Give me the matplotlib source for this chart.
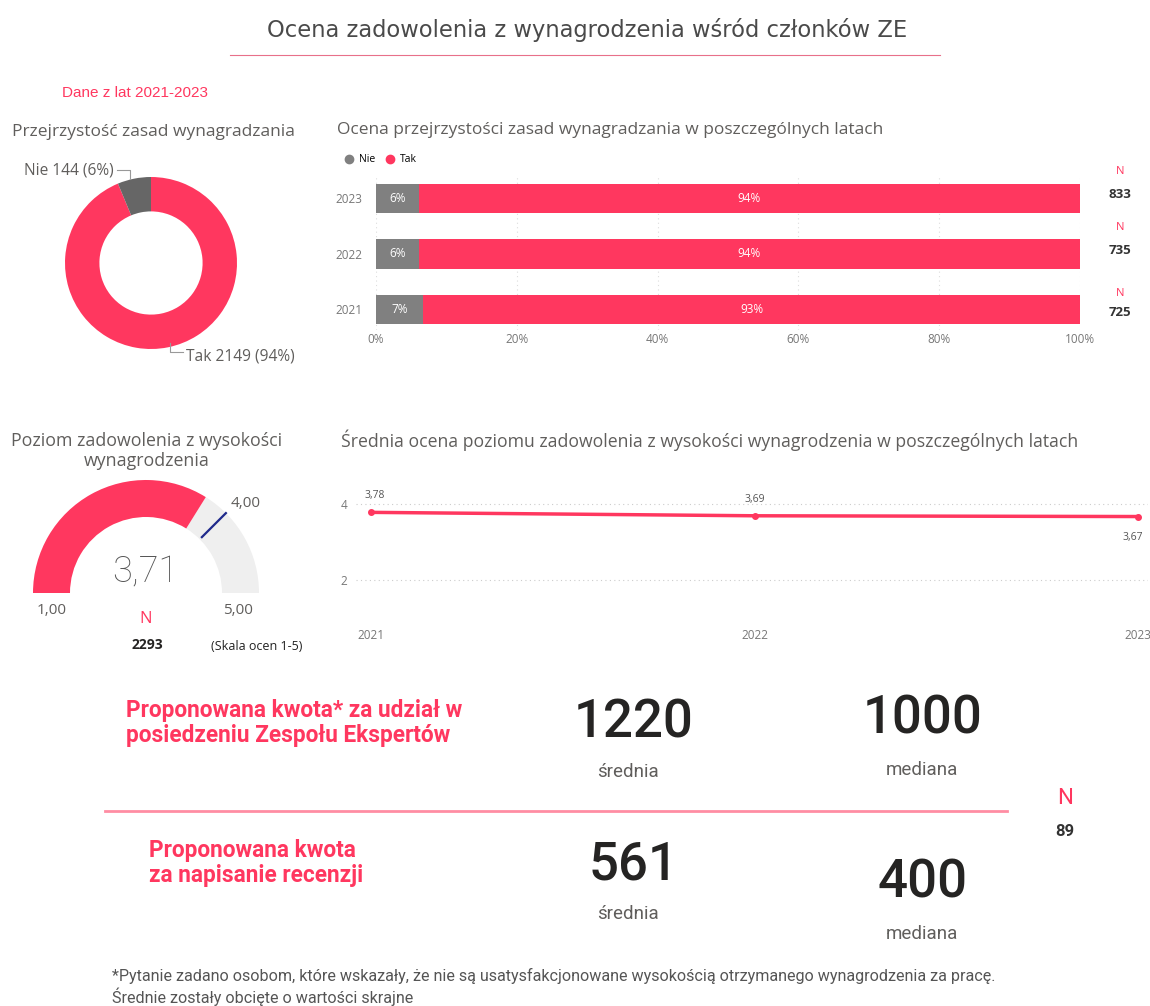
import math
import matplotlib
matplotlib.use('Agg')
import matplotlib.pyplot as plt
from matplotlib.patches import Wedge
from matplotlib.lines import Line2D

W, H = 1150, 1006

RED = '#FF375F'
GRAY_TXT = '#605E5C'
DARK = '#252423'

# ---- data ----
donut_labels = ['Tak', 'Nie']
donut_counts = [2149, 144]

years = ['2021', '2022', '2023']
nie_pct = [6.7, 6.1, 6.1]
tak_pct = [93.3, 93.9, 93.9]
nie_lbl = ['7%', '6%', '6%']
tak_lbl = ['93%', '94%', '94%']
n_year = [725, 735, 833]

gauge_value = 3.71
gauge_min = 1.0
gauge_max = 5.0
gauge_target = 4.0
gauge_n = 2293

line_years = [2021, 2022, 2023]
line_scores = [3.78, 3.69, 3.67]

kwota_names = ['Proponowana kwota* za udział w\nposiedzeniu Zespołu Ekspertów',
               'Proponowana kwota\nza napisanie recenzji']
kwota_mean = [1220, 561]
kwota_median = [1000, 400]
kwota_n = 89


def rect(x0, y0, x1, y1):
    return [x0 / W, 1 - y1 / H, (x1 - x0) / W, (y1 - y0) / H]


def fmt(v):
    return ('%.2f' % v).replace('.', ',')


fig = plt.figure(figsize=(W / 100, H / 100), dpi=100)
fig.patch.set_facecolor('white')

# overlay in pixel coordinates for free text
ov = fig.add_axes([0, 0, 1, 1])
ov.set_xlim(0, W)
ov.set_ylim(H, 0)
ov.axis('off')

ov.text(587, 30, 'Ocena zadowolenia z wynagrodzenia wśród członków ZE', ha='center', va='center',
        fontsize=16.3, color='#4a4a4a', family='DejaVu Sans')
ov.plot([230, 940], [55, 55], color='#E8708A', lw=0.8)

ov.text(62, 93, 'Dane z lat 2021-2023', ha='left', va='center', fontsize=11,
        color=RED, family='Liberation Sans')

# ---- donut ----
ov.text(12, 132, 'Przejrzystość zasad wynagradzania', ha='left', va='center',
        fontsize=12.5, color=GRAY_TXT, family='Open Sans')
ax_d = fig.add_axes(rect(65, 177, 237, 349))
ax_d.pie(donut_counts, colors=[RED, '#666666'], startangle=90, counterclock=False,
         wedgeprops=dict(width=0.4, edgecolor='none'))
ax_d.set_xlim(-1, 1)
ax_d.set_ylim(-1, 1)
tot = sum(donut_counts)
ax_d.plot([-0.24, -0.24, -0.4], [0.98, 1.08, 1.08], color='#999999', lw=0.8, clip_on=False)
ax_d.text(-0.44, 1.08, '%s %d (%d%%)' % (donut_labels[1], donut_counts[1], round(100 * donut_counts[1] / tot)),
          ha='right', va='center', fontsize=11.2, color=GRAY_TXT, family='Open Sans')
ax_d.plot([0.22, 0.22, 0.37], [-0.93, -1.03, -1.03], color='#999999', lw=0.8, clip_on=False)
ax_d.text(0.41, -1.09, '%s %d (%d%%)' % (donut_labels[0], donut_counts[0], round(100 * donut_counts[0] / tot)),
          ha='left', va='center', fontsize=11.2, color=GRAY_TXT, family='Open Sans')

# ---- stacked bars ----
ov.text(337, 130, 'Ocena przejrzystości zasad wynagradzania w poszczególnych latach', ha='left',
        va='center', fontsize=12.5, color=GRAY_TXT, family='Open Sans')
ax_b = fig.add_axes(rect(376, 176, 1080, 330))
ypos = list(range(len(years)))
ax_b.barh(ypos, nie_pct, height=0.53, color='#808080')
ax_b.barh(ypos, tak_pct, left=nie_pct, height=0.53, color=RED)
for i in ypos:
    ax_b.text(nie_pct[i] / 2, i, nie_lbl[i], ha='center', va='center', color='white', fontsize=8.5,
              family='Open Sans')
    ax_b.text(nie_pct[i] + tak_pct[i] / 2, i, tak_lbl[i], ha='center', va='center', color='white',
              fontsize=8.5, family='Open Sans')
ax_b.set_xlim(0, 100)
ax_b.set_ylim(-0.37, 2.405)
ax_b.set_xticks(range(0, 101, 20))
ax_b.set_xticklabels(['%d%%' % v for v in range(0, 101, 20)])
ax_b.set_yticks(ypos)
ax_b.set_yticklabels(years)
ax_b.tick_params(length=0, labelsize=8.5, labelcolor='#777777')
ax_b.tick_params(axis='y', pad=10)
ax_b.tick_params(axis='x', pad=2)
for lab in ax_b.get_xticklabels() + ax_b.get_yticklabels():
    lab.set_family('Open Sans')
ax_b.grid(axis='x', color='#dddddd', ls=(0, (1, 3)), lw=0.8)
ax_b.set_axisbelow(True)
for s in ax_b.spines.values():
    s.set_visible(False)
ax_b.legend(handles=[Line2D([], [], marker='o', ls='', color='#808080', ms=6, label='Nie'),
                     Line2D([], [], marker='o', ls='', color=RED, ms=6, label='Tak')],
            loc='center left', bbox_to_anchor=(333 / W, 1 - 160 / H), bbox_transform=fig.transFigure,
            ncol=2, frameon=False, handletextpad=0.0, columnspacing=0.4,
            borderpad=0, prop=dict(family='Open Sans', size=7.5))
n_y = {2: (171, 194), 1: (227, 250), 0: (293, 313)}
for i in ypos:
    ov.text(1120, n_y[i][0], 'N', ha='center', va='center', color=RED, fontsize=8, family='Open Sans')
    ov.text(1120, n_y[i][1], str(n_year[i]), ha='center', va='center', color='#333333', fontsize=9.5,
            fontweight='bold', family='Open Sans')

# ---- gauge ----
ov.text(147, 451, 'Poziom zadowolenia z wysokości\nwynagrodzenia', ha='center', va='center',
        fontsize=12.8, color=GRAY_TXT, family='Open Sans', linespacing=1.1)
ax_g = fig.add_axes(rect(20, 470, 275, 600))
ax_g.set_xlim(-126, 129)
ax_g.set_ylim(-7, 123)
ax_g.axis('off')
R_OUT, R_W = 113, 37
ang_val = 180 - (gauge_value - gauge_min) / (gauge_max - gauge_min) * 180
ang_tgt = 180 - (gauge_target - gauge_min) / (gauge_max - gauge_min) * 180
ax_g.add_patch(Wedge((0, 0), R_OUT, 0, ang_val, width=R_W, color='#EFEFEF', lw=0))
ax_g.add_patch(Wedge((0, 0), R_OUT, ang_val, 180, width=R_W, color=RED, lw=0))
ca, sa = math.cos(math.radians(ang_tgt)), math.sin(math.radians(ang_tgt))
ax_g.plot([ca * (R_OUT - R_W + 3), ca * R_OUT], [sa * (R_OUT - R_W + 3), sa * R_OUT], color='#1F2A8C', lw=1.6)
ax_g.text(ca * R_OUT + 5, sa * R_OUT + 10, fmt(gauge_target), ha='left', va='center', fontsize=11,
          color=GRAY_TXT, family='Open Sans')
ov.text(145, 572, fmt(gauge_value), ha='center', va='center', fontsize=26, color='#555555',
        family='Roboto', fontweight='light')
ov.text(52, 610, fmt(gauge_min), ha='center', va='center', fontsize=11, color=GRAY_TXT, family='Open Sans')
ov.text(238, 610, fmt(gauge_max), ha='center', va='center', fontsize=11, color=GRAY_TXT, family='Open Sans')
ov.text(146, 619, 'N', ha='center', va='center', fontsize=12, color=RED, family='Open Sans')
ov.text(147, 645, str(gauge_n), ha='center', va='center', fontsize=10, color=DARK, fontweight='bold',
        family='Open Sans')
ov.text(257, 647, '(Skala ocen 1-5)', ha='center', va='center', fontsize=9, color='#222222', family='Open Sans')

# ---- line chart ----
ov.text(341, 440, 'Średnia ocena poziomu zadowolenia z wysokości wynagrodzenia w poszczególnych latach',
        ha='left', va='center', fontsize=12.7, color=GRAY_TXT, family='Open Sans')
ax_l = fig.add_axes(rect(356, 473.6, 1148, 618))
ax_l.plot(line_years, line_scores, color=RED, lw=2.5, marker='o', ms=4)
ax_l.set_xlim(2021 - 15 / 383.5, 2023 + 10 / 383.5)
ax_l.set_ylim(1, 4.8)
ax_l.set_yticks([2, 4])
ax_l.set_xticks(line_years)
ax_l.tick_params(length=0, labelsize=8.5, labelcolor='#777777')
ax_l.tick_params(axis='x', pad=8)
ax_l.tick_params(axis='y', pad=6)
for lab in ax_l.get_xticklabels() + ax_l.get_yticklabels():
    lab.set_family('Open Sans')
ax_l.grid(axis='y', color='#cccccc', ls=(0, (1, 3)), lw=0.8)
for s in ax_l.spines.values():
    s.set_visible(False)
offs = [(3, 12), (0, 12), (-4, -15)]
for x, y, o in zip(line_years, line_scores, offs):
    ax_l.annotate(fmt(y), (x, y), xytext=o, textcoords='offset points', ha='center', va='center',
                  fontsize=7.5, color='#555555', family='Open Sans')

# ---- kwoty ----
name_xy = [(126, 723), (149, 863)]
row_y = [(723, 719), (865, 883)]
lbl_y = [(772, 770), (914, 934)]
for i in range(2):
    ov.text(name_xy[i][0], name_xy[i][1], kwota_names[i], ha='left', va='center',
            fontsize=16.3, color=RED, fontweight='bold', family='Roboto', linespacing=1.15)
    ov.text(634, row_y[i][0], str(kwota_mean[i]), ha='center', va='center', fontsize=38, color=DARK,
            family='Roboto', fontweight='medium')
    ov.text(628, lbl_y[i][0], 'średnia', ha='center', va='center', fontsize=13.5, color=GRAY_TXT,
            family='Roboto')
    ov.text(923, row_y[i][1], str(kwota_median[i]), ha='center', va='center', fontsize=38, color=DARK,
            family='Roboto', fontweight='medium')
    ov.text(922, lbl_y[i][1], 'mediana', ha='center', va='center', fontsize=13.5, color=GRAY_TXT,
            family='Roboto')
ov.plot([105, 1007], [811, 811], color='#FF8DA3', lw=2)
ov.text(1065, 798, 'N', ha='center', va='center', fontsize=16, color=RED, family='Roboto')
ov.text(1065, 832, str(kwota_n), ha='center', va='center', fontsize=12, color='#333333', family='Roboto',
        fontweight='bold')

ov.text(112, 976, '*Pytanie zadano osobom, które wskazały, że nie są usatysfakcjonowane wysokością '
        'otrzymanego wynagrodzenia za pracę.', ha='left', va='center', fontsize=11.6, color='#555555',
        family='Roboto')
ov.text(112, 997, 'Średnie zostały obcięte o wartości skrajne', ha='left', va='center', fontsize=11.6,
        color='#555555', family='Roboto')

fig.savefig('out.png', dpi=100, facecolor='white')
